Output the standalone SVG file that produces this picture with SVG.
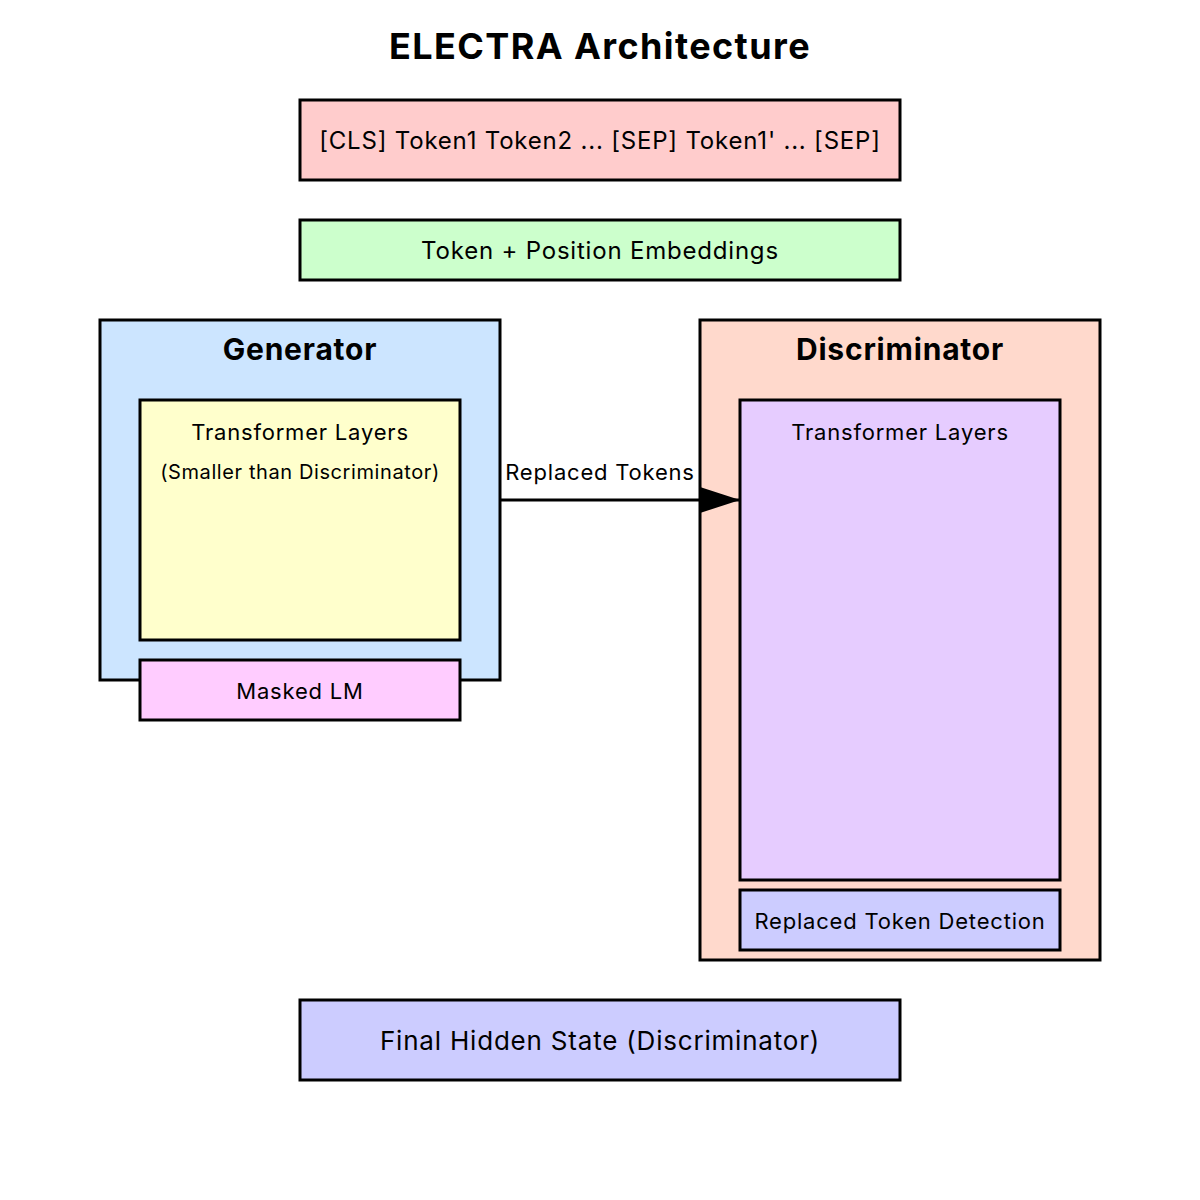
<svg xmlns="http://www.w3.org/2000/svg" width="1200" height="1200" viewBox="0 0 1200 1200">
<defs>
<style>
text{font-family:Inter,"Liberation Sans",Arial,sans-serif;fill:#000;text-anchor:middle;letter-spacing:0.8px;}
.box{stroke:#000;stroke-width:3;}
.title{font-size:36px;font-weight:bold;letter-spacing:1.4px;}
.h{font-size:30px;font-weight:bold;letter-spacing:0.8px;}
.t24{font-size:24px;}
.t22{font-size:22px;}
.t20{font-size:20px;letter-spacing:0.6px;}
.t26{font-size:26px;}
</style>
<marker id="arr" markerUnits="userSpaceOnUse" markerWidth="40" markerHeight="26" refX="40" refY="13" orient="auto">
<path d="M0,0 L40,13 L0,26 Z" fill="#000"/>
</marker>
</defs>
<rect width="1200" height="1200" fill="#fff"/>
<text class="title" x="600" y="59">ELECTRA Architecture</text>

<g id="input">
<rect class="box" x="300" y="100" width="600" height="80" fill="#ffcccc"/>
<text class="t24" x="600" y="149">[CLS] Token1 Token2 ... [SEP] Token1' ... [SEP]</text>
</g>
<g id="embeddings">
<rect class="box" x="300" y="220" width="600" height="60" fill="#ccffcc"/>
<text class="t24" x="600" y="259">Token + Position Embeddings</text>
</g>
<g id="generator">
<rect class="box" x="100" y="320" width="400" height="360" fill="#cce5ff"/>
<text class="h" x="300" y="360">Generator</text>
</g>
<g id="gen-transformer">
<rect class="box" x="140" y="400" width="320" height="240" fill="#ffffcc"/>
<text class="t22" x="300" y="440">Transformer Layers</text>
<text class="t20" x="300" y="479">(Smaller than Discriminator)</text>
</g>
<g id="masked-lm">
<rect class="box" x="140" y="660" width="320" height="60" fill="#ffccff"/>
<text class="t22" x="300" y="699">Masked LM</text>
</g>
<g id="discriminator">
<rect class="box" x="700" y="320" width="400" height="640" fill="#ffd9cc"/>
<text class="h" x="900" y="360">Discriminator</text>
</g>
<g id="disc-transformer">
<rect class="box" x="740" y="400" width="320" height="480" fill="#e6ccff"/>
<text class="t22" x="900" y="440">Transformer Layers</text>
</g>
<g id="rtd">
<rect class="box" x="740" y="890" width="320" height="60" fill="#ccccff"/>
<text class="t22" x="900" y="929">Replaced Token Detection</text>
</g>
<g id="final">
<rect class="box" x="300" y="1000" width="600" height="80" fill="#ccccff"/>
<text class="t26" x="600" y="1050">Final Hidden State (Discriminator)</text>
</g>
<g id="connectors">
<line x1="500" y1="500" x2="740" y2="500" stroke="#000" stroke-width="3" marker-end="url(#arr)"/>
<text class="t22" x="600" y="480">Replaced Tokens</text>
</g>
</svg>
